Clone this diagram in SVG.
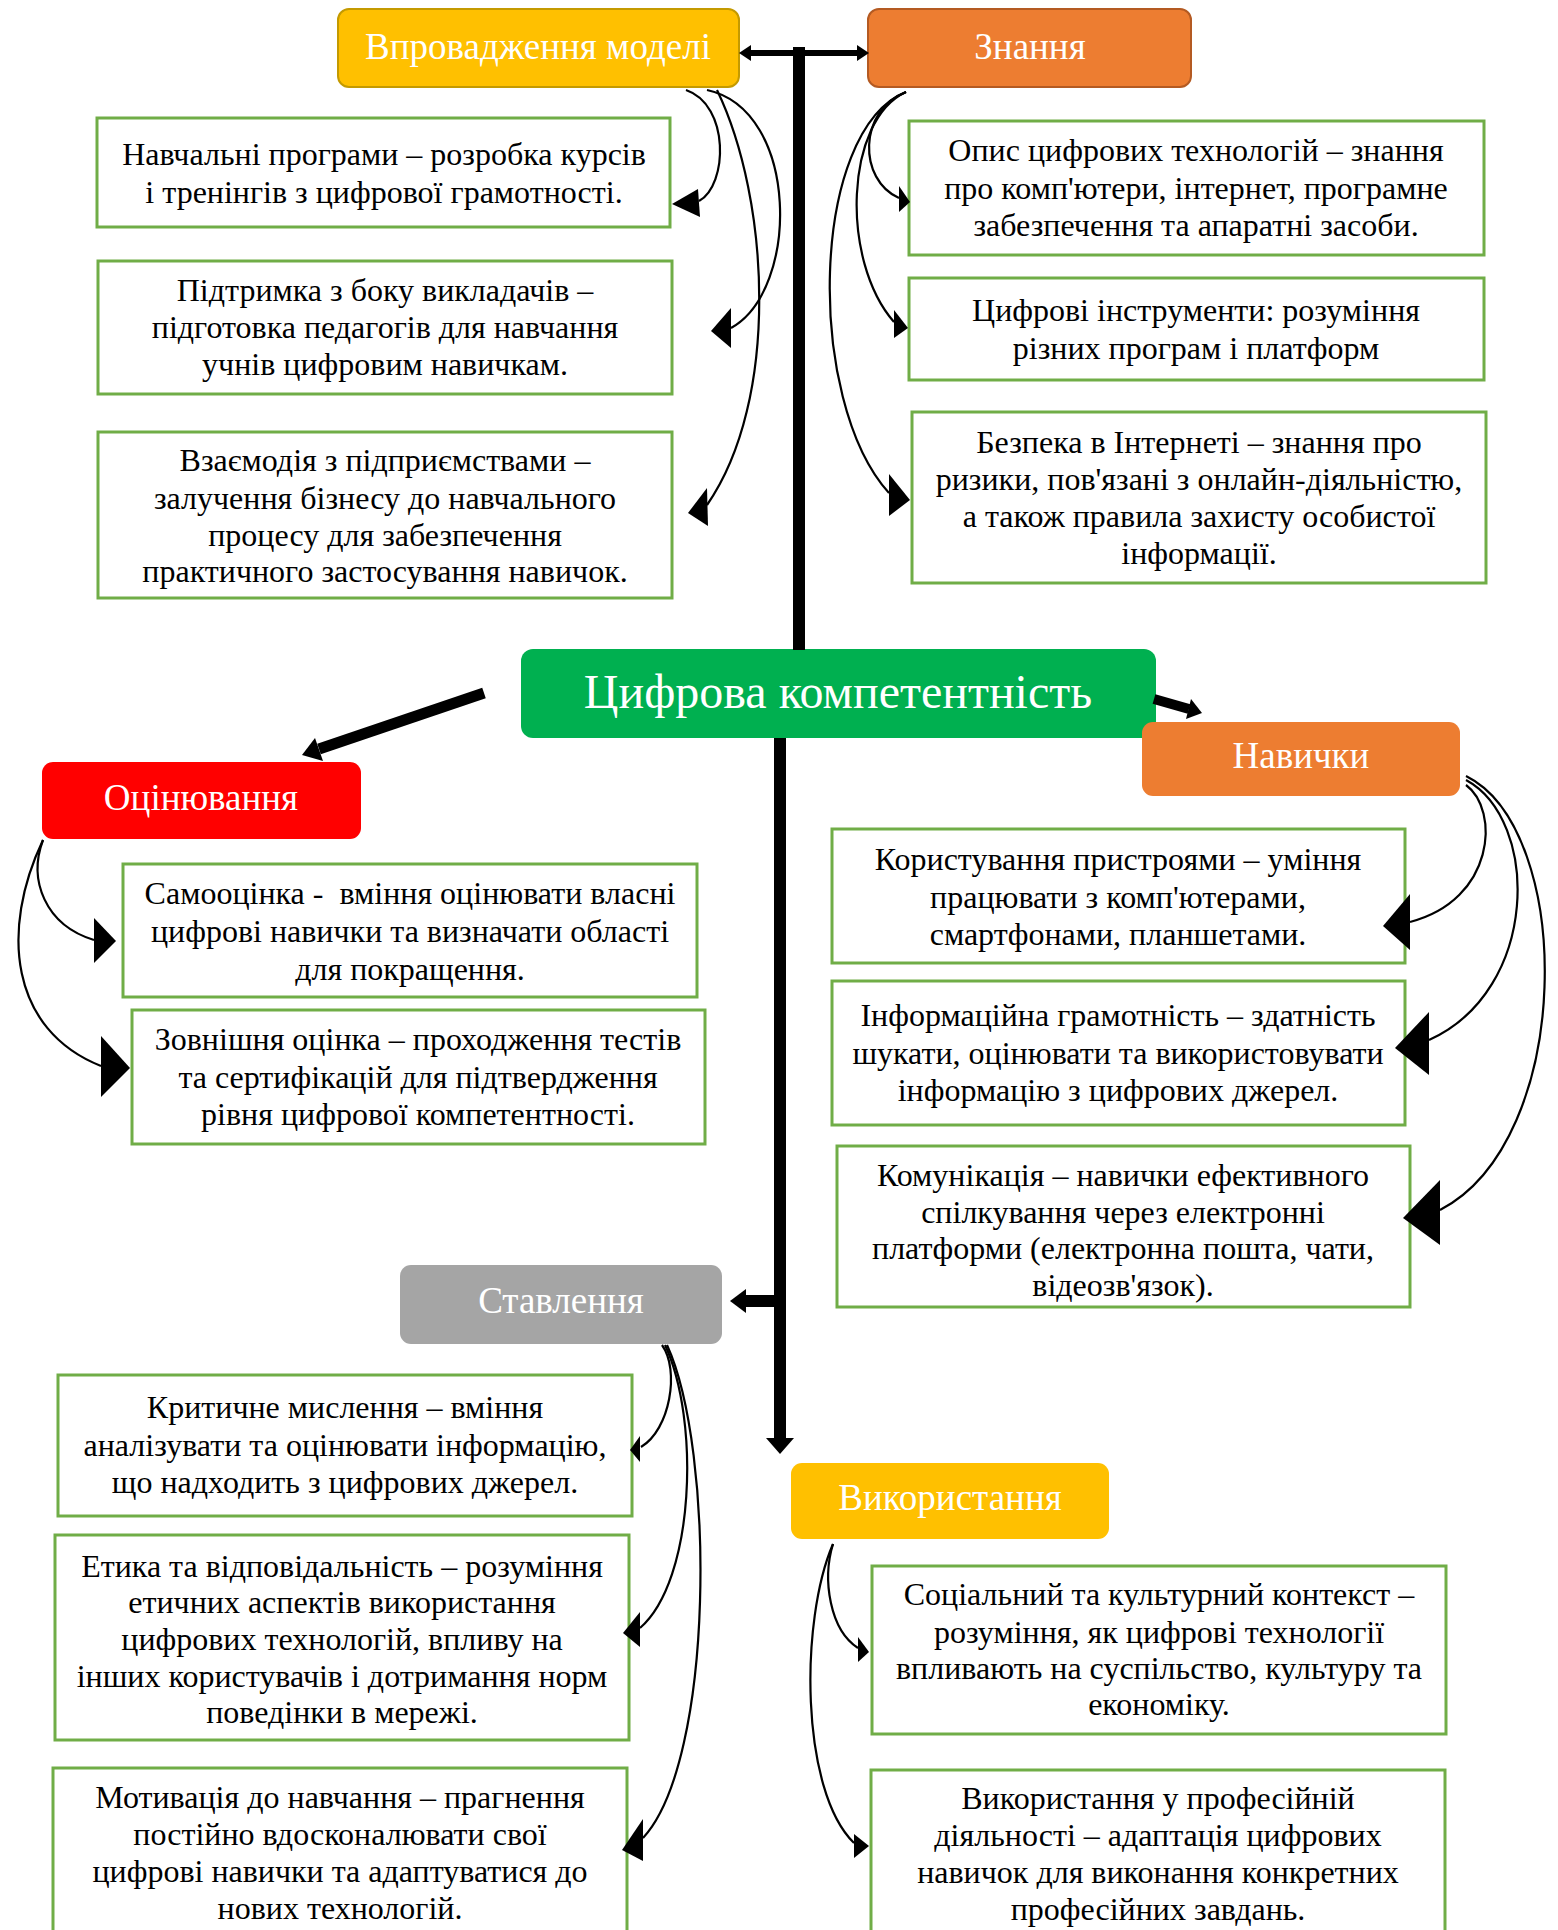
<svg xmlns="http://www.w3.org/2000/svg" width="1558" height="1930" viewBox="0 0 1558 1930">
<style>
  .t { font-family: "Liberation Serif", "Times New Roman", serif; font-size: 32px; fill: #000; text-anchor: middle; }
  .h { font-family: "Liberation Serif", "Times New Roman", serif; font-size: 37px; fill: #fff; text-anchor: middle; }
  .big { font-size: 48px; }
  .box { fill: #fff; stroke: #70AD47; stroke-width: 3; }
  .cur { fill: none; stroke: #000; stroke-width: 2.2; }
  .head { fill: #000; }
</style>
<rect width="1558" height="1930" fill="#fff"/>

<g id="node-vprovadzhennya">
  <rect x="338" y="9" width="401" height="78" rx="11" fill="#FFC000" stroke="#C49A00" stroke-width="2"/>
  <text class="h" x="538" y="59">Впровадження моделі</text>
</g>
<g id="node-znannya">
  <rect x="868" y="9" width="323" height="78" rx="11" fill="#ED7D31" stroke="#B45A22" stroke-width="2"/>
  <text class="h" x="1030" y="59">Знання</text>
</g>
<g id="node-tsyfrova">
  <rect x="521" y="649" width="635" height="89" rx="12" fill="#00B050"/>
  <text class="h big" x="838" y="708">Цифрова компетентність</text>
</g>
<g id="node-otsinyuvannya">
  <rect x="42" y="762" width="319" height="77" rx="11" fill="#FF0000"/>
  <text class="h" x="201" y="810">Оцінювання</text>
</g>
<g id="node-navychky">
  <rect x="1142" y="722" width="318" height="74" rx="11" fill="#ED7D31"/>
  <text class="h" x="1301" y="768">Навички</text>
</g>
<g id="node-stavlennya">
  <rect x="400" y="1265" width="322" height="79" rx="11" fill="#A5A5A5"/>
  <text class="h" x="561" y="1313">Ставлення</text>
</g>
<g id="node-vykorystannya">
  <rect x="791" y="1463" width="318" height="76" rx="11" fill="#FFC000"/>
  <text class="h" x="950" y="1510">Використання</text>
</g>

<g id="node-a">
  <rect class="box" x="97" y="118" width="573" height="109"/>
  <text class="t" x="384" y="165">Навчальні програми – розробка курсів</text>
  <text class="t" x="384" y="203">і тренінгів з цифрової грамотності.</text>
</g>
<g id="node-b">
  <rect class="box" x="98" y="261" width="574" height="133"/>
  <text class="t" x="385" y="301">Підтримка з боку викладачів –</text>
  <text class="t" x="385" y="338">підготовка педагогів для навчання</text>
  <text class="t" x="385" y="375">учнів цифровим навичкам.</text>
</g>
<g id="node-c">
  <rect class="box" x="98" y="432" width="574" height="166"/>
  <text class="t" x="385" y="471">Взаємодія з підприємствами –</text>
  <text class="t" x="385" y="509">залучення бізнесу до навчального</text>
  <text class="t" x="385" y="546">процесу для забезпечення</text>
  <text class="t" x="385" y="582">практичного застосування навичок.</text>
</g>
<g id="node-d">
  <rect class="box" x="909" y="121" width="575" height="134"/>
  <text class="t" x="1196" y="161">Опис цифрових технологій – знання</text>
  <text class="t" x="1196" y="199">про комп'ютери, інтернет, програмне</text>
  <text class="t" x="1196" y="236">забезпечення та апаратні засоби.</text>
</g>
<g id="node-e">
  <rect class="box" x="909" y="278" width="575" height="102"/>
  <text class="t" x="1196" y="321">Цифрові інструменти: розуміння</text>
  <text class="t" x="1196" y="359">різних програм і платформ</text>
</g>
<g id="node-f">
  <rect class="box" x="912" y="412" width="574" height="171"/>
  <text class="t" x="1199" y="453">Безпека в Інтернеті – знання про</text>
  <text class="t" x="1199" y="490">ризики, пов'язані з онлайн-діяльністю,</text>
  <text class="t" x="1199" y="527">а також правила захисту особистої</text>
  <text class="t" x="1199" y="564">інформації.</text>
</g>
<g id="node-g">
  <rect class="box" x="123" y="864" width="574" height="133"/>
  <text class="t" x="410" y="904" xml:space="preserve">Самооцінка -  вміння оцінювати власні</text>
  <text class="t" x="410" y="942">цифрові навички та визначати області</text>
  <text class="t" x="410" y="980">для покращення.</text>
</g>
<g id="node-h">
  <rect class="box" x="132" y="1010" width="573" height="134"/>
  <text class="t" x="418" y="1050">Зовнішня оцінка – проходження тестів</text>
  <text class="t" x="418" y="1088">та сертифікацій для підтвердження</text>
  <text class="t" x="418" y="1125">рівня цифрової компетентності.</text>
</g>
<g id="node-i">
  <rect class="box" x="832" y="829" width="573" height="134"/>
  <text class="t" x="1118" y="870">Користування пристроями – уміння</text>
  <text class="t" x="1118" y="908">працювати з комп'ютерами,</text>
  <text class="t" x="1118" y="945">смартфонами, планшетами.</text>
</g>
<g id="node-j">
  <rect class="box" x="832" y="981" width="573" height="144"/>
  <text class="t" x="1118" y="1026">Інформаційна грамотність – здатність</text>
  <text class="t" x="1118" y="1064">шукати, оцінювати та використовувати</text>
  <text class="t" x="1118" y="1101">інформацію з цифрових джерел.</text>
</g>
<g id="node-k">
  <rect class="box" x="837" y="1146" width="573" height="161"/>
  <text class="t" x="1123" y="1186">Комунікація – навички ефективного</text>
  <text class="t" x="1123" y="1223">спілкування через електронні</text>
  <text class="t" x="1123" y="1259">платформи (електронна пошта, чати,</text>
  <text class="t" x="1123" y="1296">відеозв'язок).</text>
</g>
<g id="node-l">
  <rect class="box" x="58" y="1375" width="574" height="141"/>
  <text class="t" x="345" y="1418">Критичне мислення – вміння</text>
  <text class="t" x="345" y="1456">аналізувати та оцінювати інформацію,</text>
  <text class="t" x="345" y="1493">що надходить з цифрових джерел.</text>
</g>
<g id="node-m">
  <rect class="box" x="55" y="1535" width="574" height="205"/>
  <text class="t" x="342" y="1577">Етика та відповідальність – розуміння</text>
  <text class="t" x="342" y="1613">етичних аспектів використання</text>
  <text class="t" x="342" y="1650">цифрових технологій, впливу на</text>
  <text class="t" x="342" y="1687">інших користувачів і дотримання норм</text>
  <text class="t" x="342" y="1723">поведінки в мережі.</text>
</g>
<g id="node-n">
  <rect class="box" x="53" y="1768" width="574" height="180"/>
  <text class="t" x="340" y="1808">Мотивація до навчання – прагнення</text>
  <text class="t" x="340" y="1845">постійно вдосконалювати свої</text>
  <text class="t" x="340" y="1882">цифрові навички та адаптуватися до</text>
  <text class="t" x="340" y="1919">нових технологій.</text>
</g>
<g id="node-o">
  <rect class="box" x="872" y="1566" width="574" height="168"/>
  <text class="t" x="1159" y="1605">Соціальний та культурний контекст –</text>
  <text class="t" x="1159" y="1643">розуміння, як цифрові технології</text>
  <text class="t" x="1159" y="1679">впливають на суспільство, культуру та</text>
  <text class="t" x="1159" y="1715">економіку.</text>
</g>
<g id="node-p">
  <rect class="box" x="871" y="1770" width="574" height="180"/>
  <text class="t" x="1158" y="1809">Використання у професійній</text>
  <text class="t" x="1158" y="1846">діяльності – адаптація цифрових</text>
  <text class="t" x="1158" y="1883">навичок для виконання конкретних</text>
  <text class="t" x="1158" y="1920">професійних завдань.</text>
</g>

<g id="connectors">
  <!-- top double arrow and trunk -->
  <rect x="748" y="50" width="110" height="6"/>
  <polygon class="head" points="739,53 751,45 751,61"/>
  <polygon class="head" points="869,53 857,45 857,61"/>
  <rect x="793" y="47" width="12" height="603"/>
  <!-- lower trunk -->
  <rect x="774" y="738" width="12" height="702"/>
  <polygon class="head" points="766,1438 794,1438 780,1454"/>
  <!-- to Ставлення -->
  <rect x="744" y="1295" width="30" height="12"/>
  <polygon class="head" points="730,1301 746,1289 746,1313"/>
  <!-- to Оцінювання -->
  <line x1="484" y1="693" x2="319" y2="749" stroke="#000" stroke-width="11"/>
  <polygon class="head" points="302,755 323,761 315,738"/>
  <!-- to Навички -->
  <line x1="1154" y1="699" x2="1189" y2="709" stroke="#000" stroke-width="10"/>
  <polygon class="head" points="1202,713 1186,719 1191,699"/>

  <!-- Впровадження моделі children -->
  <path class="cur" d="M686 90 C730 105 728 185 699 201"/>
  <polygon class="head" points="672,204 698,189 700,217"/>
  <path class="cur" d="M707 90 C800 110 800 290 731 328"/>
  <polygon class="head" points="711,331 731,308 731,348"/>
  <path class="cur" d="M717 90 C770 200 780 400 707 505"/>
  <polygon class="head" points="688,513 707,488 708,526"/>

  <!-- Знання children -->
  <path class="cur" d="M906 92 C858 110 858 180 899 198"/>
  <polygon class="head" points="910,202 899,186 899,212"/>
  <path class="cur" d="M906 92 C845 120 840 260 894 322"/>
  <polygon class="head" points="908,328 894,310 894,338"/>
  <path class="cur" d="M906 92 C810 130 805 400 889 493"/>
  <polygon class="head" points="910,500 889,474 889,516"/>

  <!-- Оцінювання children -->
  <path class="cur" d="M43 840 C28 880 45 925 94 940"/>
  <polygon class="head" points="116,941 94,918 94,963"/>
  <path class="cur" d="M43 840 C0 930 10 1030 101 1066"/>
  <polygon class="head" points="130,1068 101,1036 101,1097"/>

  <!-- Навички children -->
  <path class="cur" d="M1466 785 C1500 810 1495 900 1410 922"/>
  <polygon class="head" points="1383,926 1410,894 1410,950"/>
  <path class="cur" d="M1466 780 C1540 820 1540 990 1429 1040"/>
  <polygon class="head" points="1395,1048 1429,1012 1429,1075"/>
  <path class="cur" d="M1466 776 C1575 830 1575 1140 1440 1210"/>
  <polygon class="head" points="1403,1218 1440,1180 1440,1245"/>

  <!-- Ставлення children -->
  <path class="cur" d="M662 1345 C680 1370 670 1430 641 1447"/>
  <polygon class="head" points="630,1450 640,1436 640,1462"/>
  <path class="cur" d="M665 1345 C700 1420 695 1580 640 1628"/>
  <polygon class="head" points="623,1633 640,1612 640,1647"/>
  <path class="cur" d="M667 1345 C715 1450 715 1760 643 1838"/>
  <polygon class="head" points="622,1850 643,1819 643,1861"/>

  <!-- Використання children -->
  <path class="cur" d="M833 1544 C822 1580 830 1630 858 1648"/>
  <polygon class="head" points="869,1652 858,1637 858,1662"/>
  <path class="cur" d="M833 1544 C800 1620 800 1790 854 1843"/>
  <polygon class="head" points="869,1846 854,1834 854,1858"/>
</g>
</svg>
